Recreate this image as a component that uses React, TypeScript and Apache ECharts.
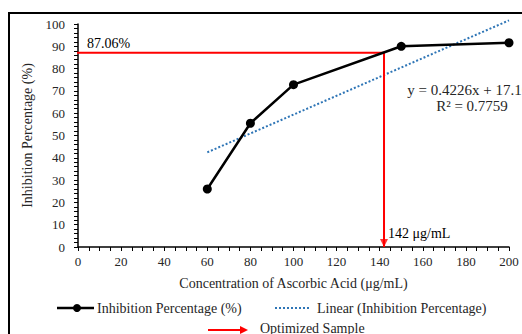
import React, { useEffect, useRef } from "react";
import * as echarts from "echarts";

const concentrations = [60, 80, 100, 150, 200];
const inhibition = [26, 55.5, 72.8, 90, 91.6];
const trendX = [60, 200];
const trendY = [42.46, 101.62];
const optimizedX = 142;
const optimizedY = 87.06;
const refLineStartX = -12.5;
const xTicks = { min: 0, max: 200, interval: 20 };
const yTicks = { min: 0, max: 100, interval: 10 };

const FONT = "'Liberation Serif', 'Times New Roman', serif";
const TXT = "#262626";

export default function App() {
  const ref = useRef<HTMLDivElement>(null);
  useEffect(() => {
    if (!ref.current) return;
    const chart = echarts.init(ref.current, undefined, { renderer: "svg" });
    const axisCommon = {
      type: "value" as const,
      axisLine: { show: true, lineStyle: { color: "#000", width: 1.5 } },
      axisTick: { show: true, length: 4, lineStyle: { color: "#000", width: 1 } },
      minorTick: { show: true, length: 4, lineStyle: { color: "#000", width: 1 } },
      splitLine: { show: false },
      axisLabel: { color: TXT, fontFamily: FONT, fontSize: 13 },
      nameTextStyle: { color: TXT, fontFamily: FONT, fontSize: 14 },
      nameLocation: "middle" as const,
    };
    chart.setOption({
      animation: false,
      grid: { left: 78, right: 13, top: 24, bottom: 87, containLabel: false },
      xAxis: {
        ...axisCommon,
        min: xTicks.min,
        max: xTicks.max,
        interval: xTicks.interval,
        minorTick: { ...axisCommon.minorTick, splitNumber: 4 },
        axisLabel: { ...axisCommon.axisLabel, margin: 8 },
        name: "Concentration of Ascorbic Acid (μg/mL)",
        nameGap: 29,
      },
      yAxis: {
        ...axisCommon,
        min: yTicks.min,
        max: yTicks.max,
        interval: yTicks.interval,
        minorTick: { ...axisCommon.minorTick, splitNumber: 5 },
        axisLabel: { ...axisCommon.axisLabel, margin: 13 },
        name: "Inhibition Percentage (%)",
        nameGap: 35,
      },
      series: [
        {
          name: "Optimized Sample",
          type: "line",
          data: [
            [refLineStartX, optimizedY],
            [optimizedX, optimizedY],
            [optimizedX, 0],
          ],
          showSymbol: false,
          symbol: "none",
          clip: false,
          lineStyle: { color: "#FF0000", width: 2 },
          z: 3,
        },
        {
          name: "Arrow",
          type: "scatter",
          data: [[optimizedX, 0]],
          symbol: "triangle",
          symbolRotate: 180,
          symbolSize: [8, 8],
          symbolOffset: [0, -4],
          itemStyle: { color: "#FF0000" },
          clip: false,
          z: 4,
        },
        {
          name: "Linear (Inhibition Percentage)",
          type: "line",
          data: trendX.map((x, i) => [x, trendY[i]]),
          symbol: "none",
          clip: false,
          lineStyle: { color: "#2E75B6", width: 2, type: [2, 2] },
          z: 2,
        },
        {
          name: "Inhibition Percentage (%)",
          type: "line",
          data: concentrations.map((x, i) => [x, inhibition[i]]),
          symbol: "circle",
          symbolSize: 9,
          itemStyle: { color: "#000" },
          lineStyle: { color: "#000", width: 2.5 },
          z: 5,
        },
      ],
      graphic: [
        {
          type: "rect",
          shape: { x: 9, y: 13, width: 700, height: 500 },
          style: { fill: "none", stroke: "#000", lineWidth: 2 },
          z: 0,
        },
        {
          type: "text",
          x: 87,
          y: 43,
          style: { text: "87.06%", fill: "#000", font: `14px ${FONT}`, verticalAlign: "middle" },
        },
        {
          type: "text",
          x: 388,
          y: 233,
          style: { text: "142 μg/mL", fill: "#000", font: `14px ${FONT}`, verticalAlign: "middle" },
        },
        {
          type: "text",
          x: 472,
          y: 90,
          style: { text: "y = 0.4226x + 17.101", fill: TXT, font: `15px ${FONT}`, verticalAlign: "middle", align: "center" },
        },
        {
          type: "text",
          x: 472,
          y: 106,
          style: { text: "R² = 0.7759", fill: TXT, font: `15px ${FONT}`, verticalAlign: "middle", align: "center" },
        },
        // legend row 1
        {
          type: "line",
          shape: { x1: 57, y1: 308, x2: 94, y2: 308 },
          style: { stroke: "#000", lineWidth: 2.5 },
        },
        {
          type: "circle",
          shape: { cx: 77, cy: 308, r: 4 },
          style: { fill: "#000" },
        },
        {
          type: "text",
          x: 97,
          y: 308,
          style: { text: "Inhibition Percentage (%)", fill: TXT, font: `14px ${FONT}`, verticalAlign: "middle" },
        },
        {
          type: "line",
          shape: { x1: 275, y1: 308, x2: 311, y2: 308 },
          style: { stroke: "#2E75B6", lineWidth: 2, lineDash: [2, 2] },
        },
        {
          type: "text",
          x: 317,
          y: 308,
          style: { text: "Linear (Inhibition Percentage)", fill: TXT, font: `14px ${FONT}`, verticalAlign: "middle" },
        },
        // legend row 2
        {
          type: "line",
          shape: { x1: 208, y1: 330, x2: 241, y2: 330 },
          style: { stroke: "#FF0000", lineWidth: 2 },
        },
        {
          type: "polygon",
          shape: { points: [[240, 326], [248, 330], [240, 334]] },
          style: { fill: "#FF0000" },
        },
        {
          type: "text",
          x: 260,
          y: 328,
          style: { text: "Optimized Sample", fill: TXT, font: `14px ${FONT}`, verticalAlign: "middle" },
        },
      ],
    });
    return () => chart.dispose();
  }, []);
  return (
    <div
      ref={ref}
      style={{ position: "fixed", left: 0, top: 0, width: 522, height: 334, background: "#fff" }}
    />
  );
}
